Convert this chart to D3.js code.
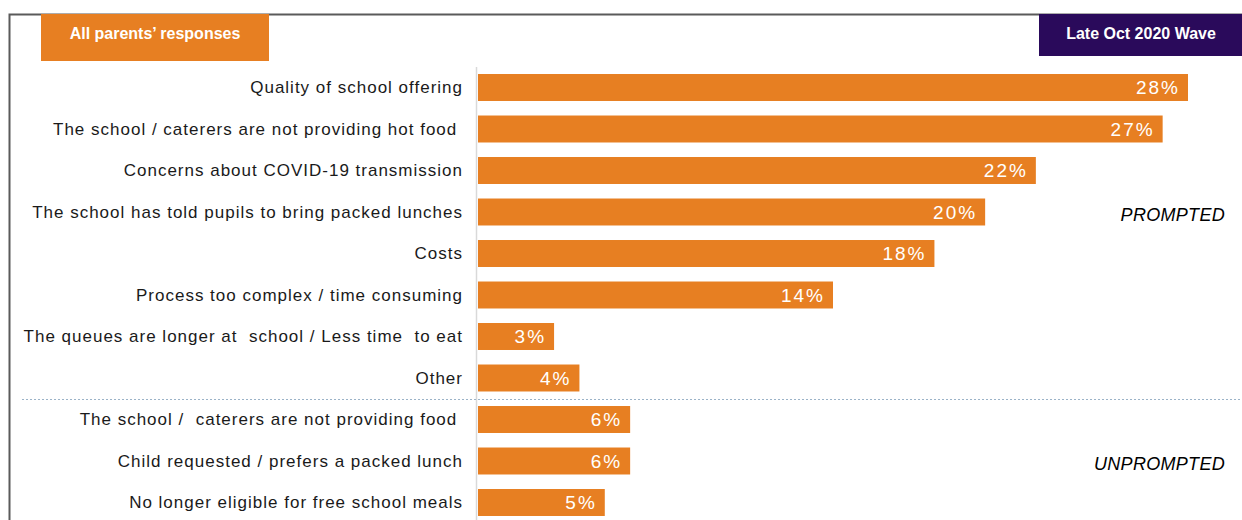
<!DOCTYPE html>
<html>
<head>
<meta charset="utf-8">
<script src="https://cdn.jsdelivr.net/npm/d3@7"></script>
<style>
  body { margin: 0; background: #fff; }
  svg { display: block; font-family: "Liberation Sans", Arial, sans-serif; }
  text { white-space: pre; }
</style>
</head>
<body>
<svg id="chart"></svg>
<script>
// data
var categories = [
  "Quality of school offering",
  "The school / caterers are not providing hot food ",
  "Concerns about COVID-19 transmission",
  "The school has told pupils to bring packed lunches",
  "Costs",
  "Process too complex / time consuming",
  "The queues are longer at  school / Less time  to eat",
  "Other",
  "The school /  caterers are not providing food ",
  "Child requested / prefers a packed lunch",
  "No longer eligible for free school meals"
];
var values = [28, 27, 22, 20, 18, 14, 3, 4, 6, 6, 5];
var groups = ["PROMPTED", "PROMPTED", "PROMPTED", "PROMPTED", "PROMPTED", "PROMPTED", "PROMPTED", "PROMPTED",
              "UNPROMPTED", "UNPROMPTED", "UNPROMPTED"];
// group label sits beside this row
var groupLabels = ["PROMPTED", "UNPROMPTED"];
var groupLabelRows = [3, 9];
var headerLeft = "All parents\u2019 responses";
var headerRight = "Late Oct 2020 Wave";

var width = 1242, height = 520;
var orange = "#e77f22", purple = "#2a0a5b";

var svg = d3.select("#chart").attr("width", width).attr("height", height);

// scales
var x = d3.scaleLinear().domain([0, 28]).range([478, 1188]);
var y = d3.scaleBand().domain(categories).range([66.75, 523.25])
    .paddingInner(0.35).paddingOuter(0.175);

// frame
svg.append("path")
    .attr("d", "M9.5," + height + "V14.5H" + width)
    .attr("fill", "none")
    .attr("stroke", "#5a5a5a")
    .attr("stroke-width", 2);

// header boxes
svg.append("rect").attr("x", 41).attr("y", 14).attr("width", 228).attr("height", 47).attr("fill", orange);
svg.append("text").attr("x", 155).attr("y", 33).attr("dy", "0.35em")
    .attr("text-anchor", "middle").attr("fill", "#fff")
    .style("font-size", "16px").style("font-weight", "bold")
    .text(headerLeft);

svg.append("rect").attr("x", 1039).attr("y", 14).attr("width", 203).attr("height", 42).attr("fill", purple);
svg.append("text").attr("x", 1141).attr("y", 33).attr("dy", "0.35em")
    .attr("text-anchor", "middle").attr("fill", "#fff")
    .style("font-size", "16px").style("font-weight", "bold")
    .text(headerRight);

// axis line
svg.append("line")
    .attr("x1", x(0) - 1.5).attr("x2", x(0) - 1.5)
    .attr("y1", 67).attr("y2", height)
    .attr("stroke", "#d9d9d9").attr("stroke-width", 1.5);

// separator between prompted and unprompted
var splitIdx = groups.indexOf("UNPROMPTED");
var sepY = (y(categories[splitIdx - 1]) + y.bandwidth() + y(categories[splitIdx])) / 2;
svg.append("line")
    .attr("x1", 22).attr("x2", width)
    .attr("y1", Math.round(sepY) + 0.5).attr("y2", Math.round(sepY) + 0.5)
    .attr("stroke", "#9bb3c8").attr("stroke-width", 1)
    .attr("stroke-dasharray", "2,2");

// bars
var rows = svg.selectAll(".row")
  .data(categories.map(function(c, i) { return {cat: c, val: values[i]}; }))
  .enter().append("g").attr("class", "row");

rows.append("rect")
    .attr("x", x(0))
    .attr("y", function(d) { return y(d.cat); })
    .attr("width", function(d) { return x(d.val) - x(0); })
    .attr("height", y.bandwidth())
    .attr("fill", orange);

rows.append("text")
    .attr("x", function(d) { return x(d.val) - 8; })
    .attr("y", function(d) { return y(d.cat) + y.bandwidth() / 2; })
    .attr("dy", "0.36em")
    .attr("text-anchor", "end")
    .attr("fill", "#fff")
    .style("font-size", "19px")
    .style("letter-spacing", "2px")
    .text(function(d) { return d.val + "%"; });

rows.append("text")
    .attr("x", 463)
    .attr("y", function(d) { return y(d.cat) + y.bandwidth() / 2; })
    .attr("dy", "0.35em")
    .attr("text-anchor", "end")
    .attr("fill", "#1a1a1a")
    .style("font-size", "17px")
    .style("letter-spacing", "1px")
    .text(function(d) { return d.cat; });

// group labels
groupLabels.forEach(function(g, i) {
  var c = categories[groupLabelRows[i]];
  svg.append("text")
      .attr("x", 1225)
      .attr("y", y(c) + y.bandwidth() / 2 + 3)
      .attr("dy", "0.35em")
      .attr("text-anchor", "end")
      .attr("fill", "#000")
      .style("font-size", "18px")
      .style("font-style", "italic")
      .style("letter-spacing", "0.3px")
      .text(g);
});
</script>
</body>
</html>
